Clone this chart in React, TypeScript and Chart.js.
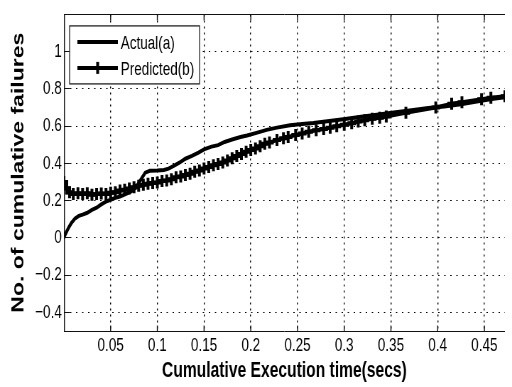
import React, { useEffect, useRef } from "react";
import { Chart, registerables } from "chart.js";

Chart.register(...registerables);

// ---- data ----
const seriesLabels = ["Actual(a)", "Predicted(b)"];

const actualX = [
  0.0, 0.002, 0.005, 0.008, 0.012, 0.016, 0.02, 0.025, 0.03, 0.035, 0.04, 0.045,
  0.05, 0.055, 0.06, 0.066, 0.072, 0.077, 0.082, 0.087, 0.092, 0.1, 0.107, 0.112,
  0.118, 0.124, 0.13, 0.137, 0.144, 0.15, 0.158, 0.165, 0.172, 0.18, 0.189, 0.196,
  0.207, 0.217, 0.228, 0.242, 0.255, 0.267, 0.284, 0.301, 0.318, 0.337, 0.355,
  0.372, 0.39, 0.407, 0.425, 0.442, 0.458, 0.472,
];
const actualY = [
  0.0, 0.025, 0.055, 0.08, 0.105, 0.118, 0.125, 0.135, 0.15, 0.162, 0.18, 0.195,
  0.205, 0.215, 0.222, 0.235, 0.25, 0.27, 0.31, 0.35, 0.36, 0.362, 0.365, 0.372,
  0.388, 0.405, 0.425, 0.44, 0.458, 0.475, 0.49, 0.498, 0.515, 0.528, 0.542, 0.55,
  0.565, 0.58, 0.592, 0.605, 0.612, 0.617, 0.627, 0.638, 0.65, 0.662, 0.675,
  0.686, 0.697, 0.706, 0.718, 0.732, 0.745, 0.755,
];

const predictedX = [
  0.0, 0.003, 0.006, 0.01, 0.015, 0.02, 0.025, 0.03, 0.035, 0.04, 0.045, 0.05,
  0.055, 0.06, 0.065, 0.07, 0.075, 0.08, 0.085, 0.09, 0.095, 0.1, 0.105, 0.11,
  0.115, 0.12, 0.125, 0.13, 0.135, 0.14, 0.145, 0.15, 0.155, 0.16, 0.165, 0.17,
  0.175, 0.18, 0.185, 0.19, 0.195, 0.2, 0.205, 0.21, 0.215, 0.22, 0.228, 0.235,
  0.24, 0.248, 0.255, 0.262, 0.27, 0.278, 0.285, 0.292, 0.3, 0.308, 0.315, 0.322,
  0.33, 0.338, 0.345, 0.366, 0.398, 0.415, 0.426, 0.447, 0.457, 0.472,
];
const predictedY = [
  0.3, 0.265, 0.245, 0.235, 0.24, 0.235, 0.24, 0.232, 0.235, 0.238, 0.236, 0.242,
  0.245, 0.255, 0.258, 0.265, 0.272, 0.28, 0.285, 0.29, 0.295, 0.298, 0.305, 0.308,
  0.315, 0.325, 0.33, 0.338, 0.345, 0.355, 0.362, 0.372, 0.38, 0.39, 0.397, 0.405,
  0.415, 0.428, 0.44, 0.45, 0.462, 0.472, 0.48, 0.492, 0.505, 0.512, 0.525, 0.535,
  0.542, 0.552, 0.56, 0.57, 0.578, 0.585, 0.592, 0.6, 0.607, 0.615, 0.625, 0.632,
  0.64, 0.645, 0.652, 0.672, 0.7, 0.72, 0.728, 0.745, 0.752, 0.76,
];

const xTicks = [0.05, 0.1, 0.15, 0.2, 0.25, 0.3, 0.35, 0.4, 0.45];
const xTickLabels = ["0.05", "0.1", "0.15", "0.2", "0.25", "0.3", "0.35", "0.4", "0.45"];
const yTicks = [-0.4, -0.2, 0, 0.2, 0.4, 0.6, 0.8, 1];
const yTickLabels = ["\u22120.4", "\u22120.2", "0", "0.2", "0.4", "0.6", "0.8", "1"];

const xTitle = "Cumulative Execution time(secs)";
const yTitle = "No. of cumulative failures";

// The reference figure is horizontally compressed; draw wider and squeeze.
const VIEW_W = 512;
const VIEW_H = 387;
const CANVAS_W = 721;
const SQUEEZE = VIEW_W / CANVAS_W;

const FONT = '"Liberation Sans", Arial, sans-serif';

function labelFor(ticks: number[], labels: string[], v: number) {
  const i = ticks.findIndex((t) => Math.abs(t - v) < 1e-9);
  return i >= 0 ? labels[i] : "";
}

const align = (p: number) => Math.round(p + 0.5) - 0.5;

const framePlugin = {
  id: "matlabFrame",
  afterDraw(chart: any) {
    const { ctx, chartArea, scales } = chart;
    const { left, top, right, bottom } = chartArea;
    ctx.save();
    ctx.setLineDash([]);
    ctx.strokeStyle = "#111";
    const L = left + 0.7;
    const B = align(bottom);
    const T = align(top);
    // horizontal frame lines
    ctx.lineWidth = 1;
    ctx.beginPath();
    ctx.moveTo(left, B);
    ctx.lineTo(right, B);
    ctx.moveTo(left, T);
    ctx.lineTo(right, T);
    yTicks.forEach((v) => {
      const y = align(scales.y.getPixelForValue(v));
      ctx.moveTo(left, y);
      ctx.lineTo(left + 8.5, y);
    });
    ctx.stroke();
    // vertical frame line + x tick marks
    ctx.lineWidth = 1.4;
    ctx.beginPath();
    ctx.moveTo(L, T);
    ctx.lineTo(L, B);
    xTicks.forEach((v) => {
      const x = scales.x.getPixelForValue(v);
      ctx.moveTo(x, B);
      ctx.lineTo(x, B - 6);
      ctx.moveTo(x, T);
      ctx.lineTo(x, T + 6);
    });
    ctx.stroke();

    // legend box
    const bx = left + 8;
    const by = top + 11.5;
    const bw = 183;
    const bh = 58;
    ctx.fillStyle = "#fff";
    ctx.fillRect(bx, by, bw, bh);
    ctx.strokeStyle = "#222";
    ctx.lineWidth = 1.3;
    ctx.strokeRect(bx, by, bw, bh);
    const ds = chart.data.datasets;
    const rows = [by + 16, by + 42];
    ctx.font = `19px ${FONT}`;
    ctx.textBaseline = "middle";
    ctx.textAlign = "left";
    ds.forEach((d: any, i: number) => {
      const y = rows[i];
      ctx.strokeStyle = "#000";
      ctx.lineWidth = 4;
      ctx.beginPath();
      ctx.moveTo(bx + 11, y);
      ctx.lineTo(bx + 68, y);
      ctx.stroke();
      if (d.pointStyle === "cross") {
        ctx.lineWidth = 4;
        ctx.beginPath();
        ctx.moveTo(bx + 39.5, y - 6);
        ctx.lineTo(bx + 39.5, y + 6);
        ctx.stroke();
      }
      ctx.fillStyle = "#000";
      ctx.fillText(d.label, bx + 72, y + 2);
    });
    ctx.restore();
  },
};

export default function App() {
  const ref = useRef<HTMLCanvasElement | null>(null);

  useEffect(() => {
    if (!ref.current) return;
    const chart = new Chart(ref.current, {
      type: "line",
      data: {
        datasets: [
          {
            label: seriesLabels[0],
            data: actualX.map((x, i) => ({ x, y: actualY[i] })),
            borderColor: "#000",
            borderWidth: 4,
            pointRadius: 0,
            tension: 0,
          },
          {
            label: seriesLabels[1],
            data: predictedX.map((x, i) => ({ x, y: predictedY[i] })),
            borderColor: "#000",
            borderWidth: 4,
            pointStyle: "cross",
            pointRadius: 6,
            pointBorderWidth: 4,
            pointBorderColor: "#000",
            pointBackgroundColor: "#000",
            tension: 0,
          },
        ],
      },
      options: {
        responsive: false,
        animation: false,
        devicePixelRatio: 1,
        layout: { padding: { top: 8, right: 0, left: 0, bottom: 0 } },
        plugins: {
          legend: { display: false },
          tooltip: { enabled: false },
        },
        scales: {
          x: {
            type: "linear",
            min: 0,
            max: 0.472,
            afterBuildTicks: (s: any) => {
              s.ticks = xTicks.map((v) => ({ value: v }));
            },
            afterFit: (s: any) => {
              s.height = 56;
            },
            ticks: {
              callback: (v: any) => labelFor(xTicks, xTickLabels, Number(v)),
              font: { family: FONT, size: 19 },
              color: "#000",
              padding: 3,
              maxRotation: 0,
              autoSkip: false,
            },
            grid: { color: "#000", lineWidth: 1.4, drawTicks: false },
            border: { display: false, dash: [2, 4] },
            title: {
              display: true,
              text: xTitle,
              color: "#000",
              font: { family: FONT, size: 22, weight: "bold" },
              padding: { top: 0, bottom: 3 },
            },
          },
          y: {
            type: "linear",
            min: -0.5,
            max: 1.2,
            afterBuildTicks: (s: any) => {
              s.ticks = yTicks.map((v) => ({ value: v }));
            },
            afterFit: (s: any) => {
              s.width = 90;
            },
            ticks: {
              callback: (v: any) => labelFor(yTicks, yTickLabels, Number(v)),
              font: { family: FONT, size: 19 },
              color: "#000",
              padding: 3,
              autoSkip: false,
            },
            grid: { color: "#000", lineWidth: 1, drawTicks: false },
            border: { display: false, dash: [2, 6.5] },
            title: {
              display: true,
              text: yTitle,
              color: "#000",
              font: { family: FONT, size: 23, weight: "bold" },
              padding: { top: 13, bottom: 0 },
            },
          },
        },
      },
      plugins: [framePlugin],
    } as any);
    return () => chart.destroy();
  }, []);

  return (
    <div
      style={{
        position: "fixed",
        left: 0,
        top: 0,
        width: VIEW_W,
        height: VIEW_H,
        overflow: "hidden",
        background: "#fff",
      }}
    >
      <div
        style={{
          width: CANVAS_W,
          height: VIEW_H,
          transform: `scaleX(${SQUEEZE})`,
          transformOrigin: "0 0",
        }}
      >
        <canvas ref={ref} width={CANVAS_W} height={VIEW_H} />
      </div>
    </div>
  );
}
